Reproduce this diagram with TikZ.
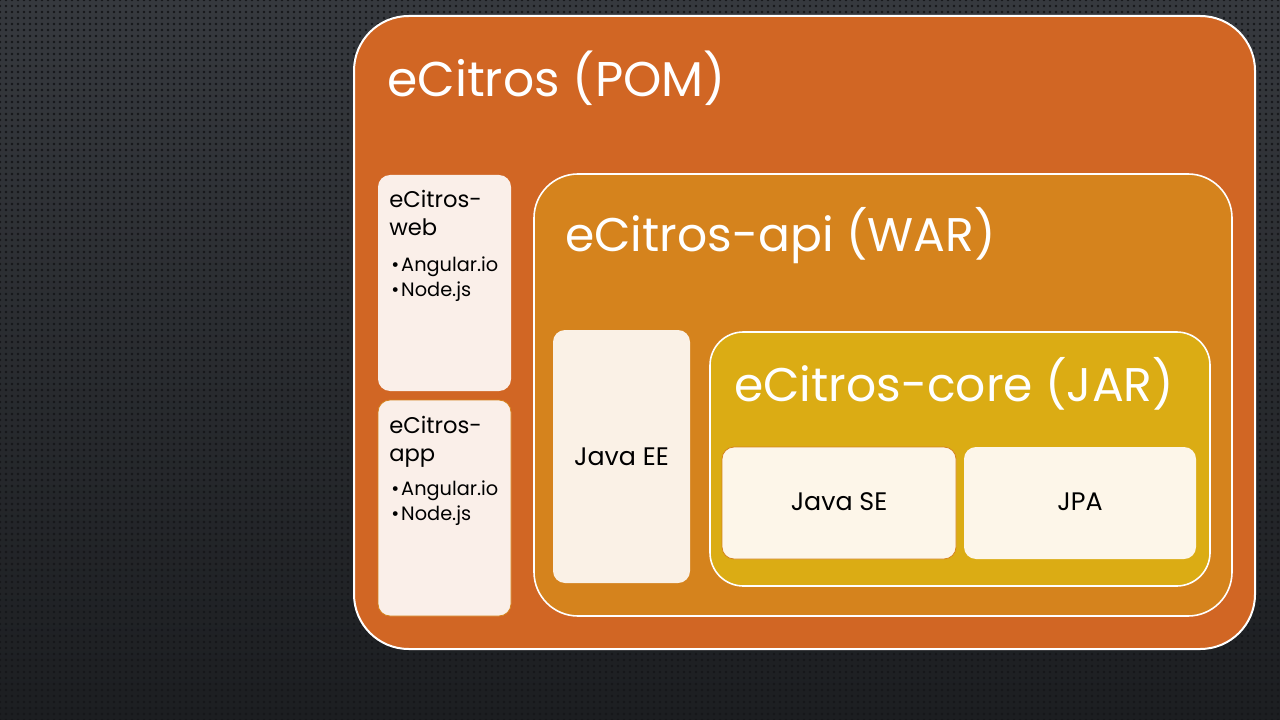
\documentclass[tikz,border=0pt]{standalone}
\usepackage{fontspec}
\setmainfont{Poppins}
\usepackage{tikz}
\usetikzlibrary{positioning,patterns.meta}

\definecolor{bgtop}{RGB}{54,57,62}
\definecolor{bgbot}{RGB}{28,30,33}
\definecolor{bgdot}{RGB}{22,23,26}
\definecolor{pomfill}{RGB}{209,102,36}
\definecolor{apifill}{RGB}{213,131,29}
\definecolor{corefill}{RGB}{219,172,20}
\definecolor{modfill}{RGB}{250,239,233}
\definecolor{eefill}{RGB}{250,241,230}
\definecolor{sefill}{RGB}{253,246,233}

\begin{document}
\begin{tikzpicture}[x=.75pt,y=-.75pt,
	title/.style={anchor=base west,inner sep=0pt,white},
	modname/.style={anchor=base west,inner sep=0pt,font=\fontsize{17}{17}\selectfont},
	item/.style={anchor=base west,inner sep=0pt,font=\fontsize{14.5}{14.5}\selectfont},
	lib/.style={inner sep=0pt,font=\fontsize{19}{19}\selectfont}]
	\shade[top color=bgtop,bottom color=bgbot] (0,0) rectangle (1280,720);
	\fill[pattern={Dots[radius=1pt,distance=4.5pt]},pattern color=bgdot] (0,0) rectangle (1280,720);
	\useasboundingbox (0,0) rectangle (1280,720);
	% eCitros (POM)
	\draw[white,line width=1.5pt,fill=pomfill,rounded corners=41pt] (354,16) rectangle (1255,649);
	\node[title,font=\fontsize{36.6}{36.6}\selectfont] (pom) at (387,97) {eCitros (POM)};
	% front end modules
	\fill[modfill,rounded corners=9pt] (378,175) rectangle (511,391);
	\draw[apifill,line width=.6pt,fill=modfill,rounded corners=9pt] (378,400) rectangle (511,616);
	\node[modname] (web) at (389,208) {eCitros-};
	\node[modname] (webb) at (389,236) {web};
	\node[modname] (app) at (389,433) {eCitros-};
	\node[modname] (appb) at (389,461) {app};
	\foreach \m/\y in {web/271,app/495} {
		\node[item] (\m ng) at (391,\y) {•\hspace{1.5pt}Angular.io};
		\node[item] (\m node) at (391,\y+25) {•\hspace{1.5pt}Node.js};
	}
	% eCitros-api (WAR)
	\draw[white,line width=1.2pt,fill=apifill,rounded corners=33pt] (534,174) rectangle (1232,616);
	\node[title,font=\fontsize{35.4}{35.4}\selectfont] (api) at (565,252) {eCitros-api (WAR)};
	\fill[eefill,rounded corners=9pt] (553,330) rectangle (690,583);
	\node[lib] (javaee) at (621.5,457) {Java EE};
	% eCitros-core (JAR)
	\draw[white,line width=1.2pt,fill=corefill,rounded corners=25pt] (710,332) rectangle (1210,586);
	\node[title,font=\fontsize{35.4}{35.4}\selectfont] (core) at (734,401) {eCitros-core (JAR)};
	\draw[apifill,line width=.6pt,fill=sefill,rounded corners=9pt] (722,447) rectangle (956,559);
	\fill[sefill,rounded corners=9pt] (964,447) rectangle (1196,559);
	\node[lib] (javase) at (839,502) {Java SE};
	\node[lib] (jpa) at (1080,502) {JPA};
\end{tikzpicture}
\end{document}
